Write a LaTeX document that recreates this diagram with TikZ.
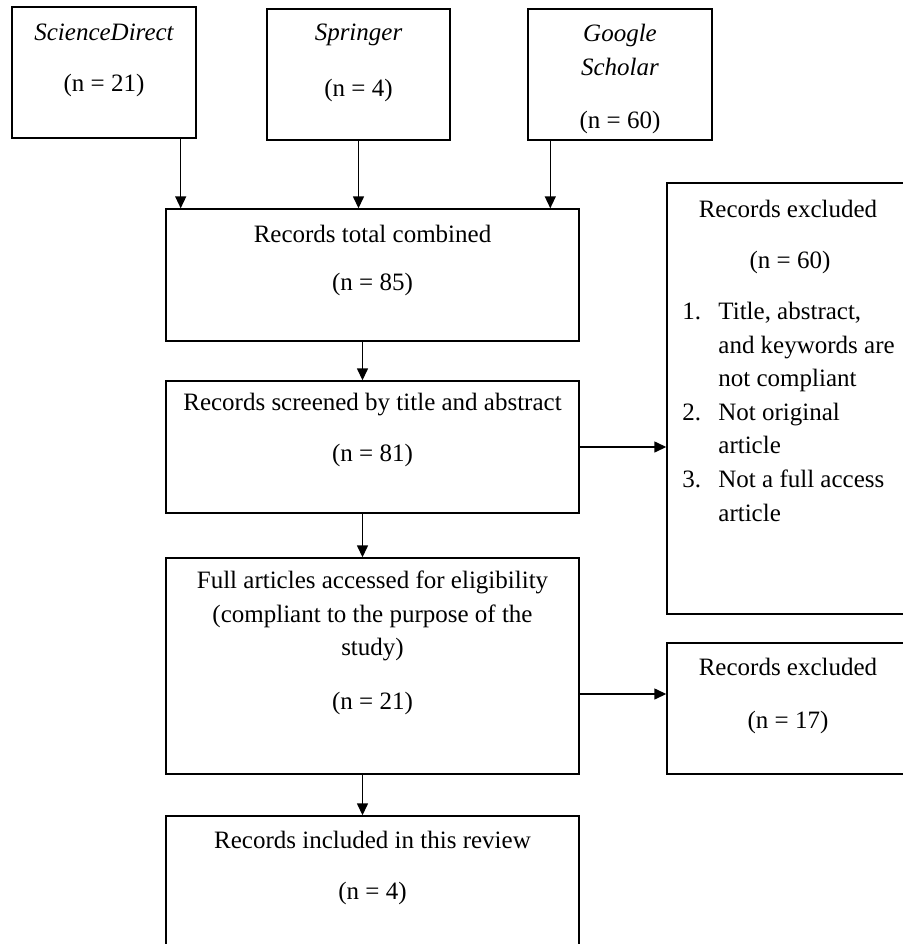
\documentclass[tikz,border=0pt]{standalone}
\usepackage{fontspec}
\setmainfont{Liberation Serif}
\usetikzlibrary{arrows.meta, positioning, calc}

\begin{document}
\begin{tikzpicture}[
  x=0.5pt, y=-0.5pt,
  box/.style={draw, line width=0.7pt, inner sep=0pt},
  txt/.style={font=\fontsize{12.5}{16.8}\selectfont, align=center, inner sep=0pt},
  arrow/.style={-{Triangle[length=6pt, width=5.5pt]}, line width=0.7pt}
]
  \useasboundingbox (0,0) rectangle (903,944);
  \clip (0,0) rectangle (903,944);

  % Sources row
  \node[box, minimum width=92pt, minimum height=65.5pt] (sd) at (104,72.5) {};
  \node[box, minimum width=91.5pt, minimum height=65.5pt] (sp) at (358.5,74.5) {};
  \node[box, minimum width=92pt, minimum height=65.5pt] (gs) at (620,74.5) {};
  \node[txt] (sdname) at (104,32) {\itshape ScienceDirect};
  \node[txt] (sdn) at (104,85) {(n = 21)};
  \node[txt] (spname) at (358.5,35) {\itshape Springer};
  \node[txt] (spn) at (358.5,90) {(n = 4)};
  \node[txt] (gsname) at (620,50) {\itshape Google\\\itshape Scholar};
  \node[txt] (gsn) at (620,122) {(n = 60)};

  % Main column
  \node[box, minimum width=206.5pt, minimum height=66pt] (comb) at (372.5,275) {};
  \node[box, minimum width=206.5pt, minimum height=66pt] (scr) at (372.5,447) {};
  \node[box, minimum width=206.5pt, minimum height=108pt] (full) at (372.5,666) {};
  \node[box, minimum width=206.5pt, minimum height=72pt] (incl) at (372.5,888) {};
  \node[txt] (combname) at (372.5,234) {Records total combined};
  \node[txt] (combn) at (372.5,284) {(n = 85)};
  \node[txt] (scrname) at (372.5,405) {Records screened by title and abstract};
  \node[txt] (scrn) at (372.5,455) {(n = 81)};
  \node[txt] (fullname) at (372.5,616) {Full articles accessed for eligibility\\(compliant to the purpose of the\\study)};
  \node[txt] (fulln) at (372.5,703) {(n = 21)};
  \node[txt] (inclname) at (372.5,840) {Records included in this review};
  \node[txt] (incln) at (372.5,893) {(n = 4)};

  % Excluded boxes
  \node[box, minimum width=121.5pt, minimum height=215.5pt] (ex1) at (788.5,398.5) {};
  \node[box, minimum width=121.5pt, minimum height=65.5pt] (ex2) at (788.5,708.5) {};
  \node[txt] (ex1name) at (788,209) {Records excluded};
  \node[txt] (ex1n) at (790,262) {(n = 60)};
  \node[txt, anchor=west, align=left] (ex1list) at (682,413.5) {%
    \begin{tabular}{@{}p{18pt}@{}l@{}}
      1. & Title,\ abstract,\\
         & and keywords are\\
         & not compliant\\
      2. & Not original\\
         & article\\
      3. & Not a full access\\
         & article
    \end{tabular}};
  \node[txt] (ex2name) at (788,667) {Records excluded};
  \node[txt] (ex2n) at (788,722) {(n = 17)};

  % Arrows
  \draw[arrow] ([xshift=-8pt]sd.south east) -- ([xshift=-8pt]sd.south east |- comb.north);
  \draw[arrow] (sp.south) -- (sp.south |- comb.north);
  \draw[arrow] ([xshift=11.5pt]gs.south west) -- ([xshift=11.5pt]gs.south west |- comb.north);
  \draw[arrow] ([xshift=-5pt]comb.south) -- ([xshift=-5pt]scr.north);
  \draw[arrow] ([xshift=-5pt]scr.south) -- ([xshift=-5pt]full.north);
  \draw[arrow] ([xshift=-5pt]full.south) -- ([xshift=-5pt]incl.north);

  % Exclusion arrows
  \draw[arrow] (scr.east) -- (scr.east -| ex1.west);
  \draw[arrow] ([yshift=-14pt]full.east) -- ([yshift=-14pt]full.east -| ex2.west);
\end{tikzpicture}
\end{document}
